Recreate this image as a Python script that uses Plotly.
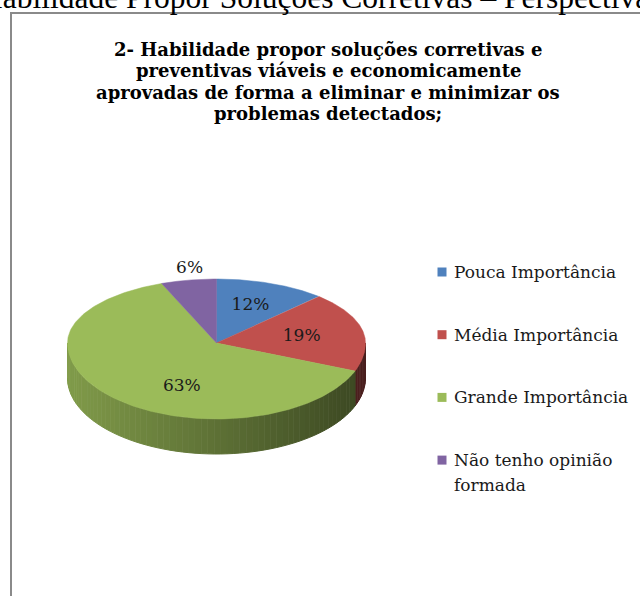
import textwrap
import numpy as np
import plotly.graph_objects as go

# ---------------- data ----------------
categories = ["Pouca Importância", "Média Importância", "Grande Importância", "Não tenho opinião formada"]
values = [12, 19, 63, 6]
colors = ["#4F81BD", "#C0504D", "#9BBB59", "#8064A2"]
chart_title_lines = ["2- Habilidade propor soluções corretivas e",
                     "preventivas viáveis e economicamente",
                     "aprovadas de forma a eliminar e minimizar os",
                     "problemas detectados;"]
page_heading = "Habilidade Propor Soluções Corretivas – Perspectiva"

# ---------------- layout params ----------------
W, H = 640, 596
CX, CY = 216.5, 343.0
RX, RY_BACK, RY_FRONT = 149.0, 64.0, 76.0
DEPTH = 35.0
LAB_R = [0.62, 0.58, 0.62, 1.18]
LAB_DT = [0, -3, 23, -2]


def hex_rgb(h):
    h = h.lstrip("#")
    return [int(h[i:i + 2], 16) for i in (0, 2, 4)]


def shade(h, f):
    r, g, b = hex_rgb(h)
    return "rgb(%d,%d,%d)" % (r * f, g * f, b * f)


def ell(theta_deg, r=1.0):
    t = np.radians(np.asarray(theta_deg, dtype=float))
    s = np.sin(t)
    ry = np.where(s > 0, RY_BACK, RY_FRONT)
    return CX + r * RX * np.cos(t), CY - r * ry * s


total = float(sum(values))
cum = np.concatenate([[0], np.cumsum(values)]) / total
starts = 90 - 360 * cum[:-1]
ends = 90 - 360 * cum[1:]

fig = go.Figure()

# ---- side wall (front half, angles -180..0) ----
for i, c in enumerate(colors):
    for shift in (-360, 0, 360):
        a = max(ends[i] + shift, -180)
        b = min(starts[i] + shift, 0)
        if b <= a:
            continue
        n = max(1, int(np.ceil((b - a) / 2.5)))
        edges = np.linspace(a, b, n + 1)
        for k in range(n):
            th = np.linspace(edges[k], edges[k + 1], 6)
            xt, yt = ell(th)
            xs = np.concatenate([xt, xt[::-1]])
            ys = np.concatenate([yt, yt[::-1] + DEPTH])
            u = (xt.mean() - (CX - RX)) / (2 * RX)
            col = shade(c, 0.83 - 0.45 * u)
            fig.add_trace(go.Scatter(x=xs, y=ys, mode="lines", fill="toself", fillcolor=col,
                                     line=dict(color=col, width=1), hoverinfo="skip",
                                     showlegend=False))

# ---- top face ----
for i, c in enumerate(colors):
    th = np.linspace(starts[i], ends[i], 200)
    xt, yt = ell(th)
    xs = np.concatenate([[CX], xt, [CX]])
    ys = np.concatenate([[CY], yt, [CY]])
    fig.add_trace(go.Scatter(x=xs, y=ys, mode="lines", fill="toself", fillcolor=c,
                             line=dict(color=c, width=0.5), name=categories[i],
                             hoverinfo="name", showlegend=False))

# ---- percentage labels ----
mids = (starts + ends) / 2 + np.array(LAB_DT)
lx, ly = [], []
for i in range(len(values)):
    x, y = ell(mids[i], LAB_R[i])
    lx.append(float(x)); ly.append(float(y))
fig.add_trace(go.Scatter(x=lx, y=ly, mode="text", text=[f"{v}%" for v in values],
                         textfont=dict(family="DejaVu Serif", size=17, color="#1a1a1a"),
                         hoverinfo="skip", showlegend=False))

# ---- legend (manual) ----
LEG_X, LEG_TX, LEG_Y0, LEG_DY, LINE_DY = 442, 452, 272, 62.7, 25
leg_y = [LEG_Y0 + i * LEG_DY for i in range(len(categories))]
fig.add_trace(go.Scatter(x=[LEG_X] * len(categories), y=leg_y, mode="markers",
                         marker=dict(symbol="square", size=9, color=colors, line=dict(width=0)),
                         hoverinfo="skip", showlegend=False))
annotations = []
for i, lab in enumerate(categories):
    for k, line in enumerate(textwrap.wrap(lab, 18)):
        annotations.append(dict(x=LEG_TX, y=leg_y[i] + k * LINE_DY, xref="x", yref="y",
                                text=line, showarrow=False, xanchor="left", yanchor="middle",
                                font=dict(family="DejaVu Serif", size=17, color="#1a1a1a")))

# ---- titles ----
TITLE_X, TITLE_Y0, TITLE_DY = 328, 49, 21.5
for k, line in enumerate(chart_title_lines):
    annotations.append(dict(x=TITLE_X, y=TITLE_Y0 + k * TITLE_DY, xref="x", yref="y",
                            text="<b>" + line + "</b>", showarrow=False,
                            xanchor="center", yanchor="middle",
                            font=dict(family="DejaVu Serif", size=18, color="#000000")))
annotations.append(dict(x=-22 / W, y=1 - 17 / H, xref="paper", yref="paper", text=page_heading,
                        showarrow=False, xanchor="left", yanchor="bottom",
                        font=dict(family="Liberation Serif", size=31.5, color="#000000")))

fig.update_layout(
    width=W, height=H, margin=dict(l=0, r=0, t=0, b=0),
    paper_bgcolor="white", plot_bgcolor="white",
    xaxis=dict(range=[0, W], visible=False, fixedrange=True),
    yaxis=dict(range=[H, 0], visible=False, fixedrange=True),
    annotations=annotations,
    shapes=[dict(type="rect", xref="x", yref="y", x0=11, y0=13, x1=W + 20, y1=H + 20,
                 line=dict(color="#8a8a8a", width=2), fillcolor="rgba(0,0,0,0)", layer="below")],
    showlegend=False,
)

fig.write_html("out.html", config={"displayModeBar": False},
               post_script="document.body.style.margin='0';")
